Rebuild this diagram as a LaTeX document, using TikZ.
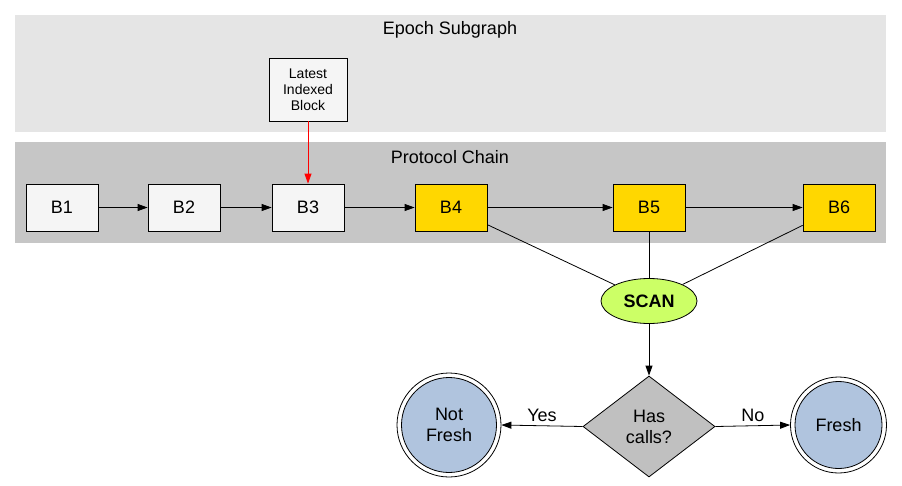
\documentclass[tikz,border=0pt]{standalone}
\usepackage{fontspec}
\setmainfont{Liberation Sans}
\usetikzlibrary{arrows.meta,shapes.geometric}
\definecolor{epochbg}{HTML}{E5E5E5}
\definecolor{chainbg}{HTML}{C6C6C6}
\definecolor{blockfill}{HTML}{F5F5F5}
\definecolor{gold}{HTML}{FFD700}
\definecolor{scanfill}{HTML}{CCFF66}
\definecolor{decfill}{HTML}{C0C0C0}
\definecolor{endfill}{HTML}{B0C4DE}
\tikzset{
  bigfont/.style={font=\fontsize{18}{21}\selectfont},
  blk/.style={draw=black, line width=0.8pt, fill=blockfill, minimum width=72pt, minimum height=47pt, inner sep=0pt, bigfont},
  goldblk/.style={blk, fill=gold},
  arr/.style={-{Triangle[length=10pt,width=7pt]}, line width=0.8pt},
  lin/.style={line width=0.8pt},
  endstate/.style={circle, draw=black, line width=0.8pt, fill=endfill, inner sep=0pt, align=center, bigfont},
}
\begin{document}
\begin{tikzpicture}[x=1pt,y=-1pt]
\useasboundingbox (0,0) rectangle (902,485);
\fill[epochbg] (15,15) rectangle (886,132);
\fill[chainbg] (15,142) rectangle (886,243);
\node[bigfont] (t1) at (450,30) {Epoch Subgraph};
\node[bigfont] (t2) at (450,157) {Protocol Chain};
\node[draw=black, line width=0.8pt, fill=blockfill, minimum width=78pt, minimum height=63pt, inner sep=0pt, align=center, font=\fontsize{14}{16}\selectfont] (lib) at (308,89.5) {Latest\\Indexed\\Block};
\node[blk] (b1) at (62,207.5) {B1};
\node[blk] (b2) at (184,207.5) {B2};
\node[blk] (b3) at (308,207.5) {B3};
\node[goldblk] (b4) at (451,207.5) {B4};
\node[goldblk] (b5) at (649,207.5) {B5};
\node[goldblk] (b6) at (839,207.5) {B6};
\node[ellipse, draw=black, line width=0.8pt, fill=scanfill, minimum width=96pt, minimum height=45pt, inner sep=0pt, font=\bfseries\fontsize{18}{21}\selectfont] (scan) at (649,301) {SCAN};
\node[diamond, draw=black, line width=0.8pt, fill=decfill, minimum width=132pt, minimum height=101pt, inner sep=0pt, aspect=1.3, align=center, bigfont] (dec) at (649,426.5) {Has\\calls?};
\node[endstate, minimum size=95pt] (nf) at (449,425) {Not\\Fresh};
\node[endstate, minimum size=87pt] (fr) at (838.5,425) {Fresh};
\draw[lin] (nf.center) circle[radius=52pt];
\draw[lin] (fr.center) circle[radius=48pt];
\coordinate (nfo) at ([xshift=4.5pt]nf.east);
\coordinate (fro) at ([xshift=-4.5pt]fr.west);
\draw[arr, red] (lib) -- (b3);
\draw[arr] (b1) -- (b2);
\draw[arr] (b2) -- (b3);
\draw[arr] (b3) -- (b4);
\draw[arr] (b4) -- (b5);
\draw[arr] (b5) -- (b6);
\draw[lin] (b4) -- (scan);
\draw[lin] (b5) -- (scan);
\draw[lin] (b6) -- (scan);
\draw[arr] (scan) -- (dec);
\draw[arr] (dec.west) -- node[above, bigfont, pos=0.5] (yes) {Yes} (nfo);
\draw[arr] (dec.east) -- node[above, bigfont, pos=0.5] (no) {No} (fro);
\end{tikzpicture}
\end{document}
